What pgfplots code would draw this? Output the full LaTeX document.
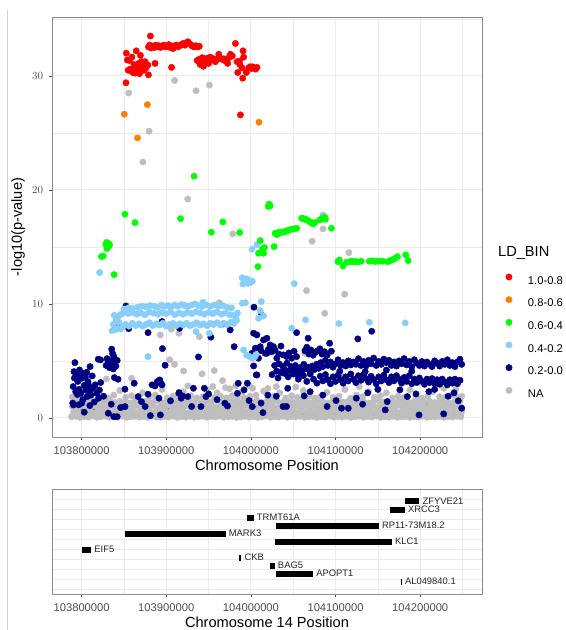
\documentclass[border=0pt]{standalone}
\usepackage{fontspec}
\setmainfont{Liberation Sans}
\usepackage{pgfplots}
\pgfplotsset{compat=1.18}

\definecolor{ldred}{HTML}{FF0000}
\definecolor{ldorange}{HTML}{FF8000}
\definecolor{ldgreen}{HTML}{00FF00}
\definecolor{ldlight}{HTML}{87CEFA}
\definecolor{ldnavy}{HTML}{000080}
\definecolor{ldgrey}{HTML}{BEBEBE}
\definecolor{gridgrey}{HTML}{EBEBEB}
\definecolor{ticktext}{HTML}{4D4D4D}

\pgfplotsset{
  ggpanel/.style={
    scale only axis, width=430bp, anchor=south west,
    xmin=103765, xmax=104273,
    xtick={103800,103900,104000,104100,104200},
    xticklabels={103800000,103900000,104000000,104100000,104200000},
    minor xtick={103850,103950,104050,104150,104250},
    scaled x ticks=false, scaled y ticks=false,
    xtick pos=bottom, ytick pos=left,
    grid=both,
    major grid style={draw=gridgrey, line width=0.9bp},
    minor grid style={draw=gridgrey, line width=0.5bp},
    axis line style={draw=black!45, line width=0.6bp},
    tick align=outside, major tick length=3bp, minor tick length=0bp,
    tick style={draw=black!70, line width=0.6bp},
    every tick label/.append style={font=\fontsize{11.2bp}{13bp}\selectfont, text=ticktext},
    xticklabel style={inner sep=0bp, anchor=north, yshift=-6.5bp},
    yticklabel style={inner sep=0bp, anchor=east, xshift=-5.7bp},
    every axis x label/.style={at={(axis description cs:0.5,0)}, anchor=base,
      yshift=-33.5bp, font=\fontsize{14.6bp}{17bp}\selectfont},
    every axis y label/.style={at={(axis description cs:-0.0698,0.5)}, anchor=base,
      rotate=90, font=\fontsize{14.6bp}{17bp}\selectfont},
  },
  dots/.style={only marks, mark=*, mark size=3.2bp, color=#1, mark options={draw=none}, forget plot},
  ldleg/.style={only marks, mark=*, mark size=3.2bp, color=#1, mark options={draw=none},
    legend image code/.code={\path[draw=none, fill=none] (-7bp,-4bp) rectangle (7bp,11bp);
      \draw[##1] plot coordinates {(0bp,4bp)};}},
  gene/.style={line width=5.8bp, black, line cap=butt, forget plot},
}
\tikzset{genelab/.style={anchor=west, inner sep=0bp, xshift=3bp, text=black!85,
  font=\fontsize{9.4bp}{11bp}\selectfont}}

\begin{document}
\begin{tikzpicture}
\path[use as bounding box] (0bp,0bp) rectangle (566bp,630bp);
\draw[black!18, line width=0.8bp] (7bp,0bp) -- (7bp,620bp);

% ---------------- association panel ----------------
\begin{axis}[ggpanel, at={(52bp,193bp)}, height=420bp,
  ymin=-1.675, ymax=35.17,
  ytick={0,10,20,30}, minor ytick={5,15,25,35},
  xlabel={Chromosome Position}, ylabel={-log10(p-value)},
  legend style={at={(axis description cs:1.0465,0.3976)}, anchor=north west,
    draw=none, fill=none, inner sep=0bp, outer sep=0bp, row sep=7bp,
    font=\fontsize{11.2bp}{13bp}\selectfont, nodes={inner sep=0bp},
    /tikz/every odd column/.append style={column sep=12bp}},
  legend cell align=left]

% 0.2-0.0 partly hidden under the NA cloud
\addplot[dots=ldnavy] coordinates {
(103798,0.7)(103812,0.6)(103826,0.3)(103845,1.2)(103860,0.5)(103884,0.25)(103905,0.7)
(103915,1.1)(103932,0.35)(103955,0.4)(103978,0.6)(104000,0.6)(104026,0.3)(104045,1.2)
(104060,0.3)(104081,0.6)(104101,0.35)(104120,0.5)(104136,0.9)(104146,0.25)(104170,0.4)
(104193,0.55)(104205,1.1)(104220,0.6)(104236,0.3)(104247,0.2)};

% NA
\addplot[dots=ldgrey] coordinates {
(103788,0.1)(103793,0.15)(103798,0.05)(103803,0.12)(103808,0.08)(103813,0.18)(103818,0.05)
(103823,0.1)(103828,0.15)(103833,0.06)(103838,0.12)(103843,0.08)(103848,0.16)(103853,0.05)
(103858,0.1)(103863,0.14)(103868,0.07)(103873,0.12)(103878,0.05)(103883,0.15)(103888,0.09)
(103893,0.06)(103898,0.13)(103903,0.08)(103908,0.16)(103913,0.05)(103918,0.11)(103923,0.07)
(103928,0.14)(103933,0.06)(103938,0.1)(103943,0.15)(103948,0.05)(103953,0.12)(103958,0.08)
(103963,0.17)(103968,0.06)(103973,0.1)(103978,0.13)(103983,0.05)(103988,0.09)(103993,0.15)
(103998,0.07)(104003,0.12)(104008,0.05)(104013,0.1)(104018,0.16)(104023,0.06)(104028,0.11)
(104033,0.08)(104038,0.14)(104043,0.05)(104048,0.12)(104053,0.09)(104058,0.15)(104063,0.06)
(104068,0.1)(104073,0.13)(104078,0.05)(104083,0.11)(104088,0.08)(104093,0.16)(104098,0.06)
(104103,0.12)(104108,0.07)(104113,0.14)(104118,0.05)(104123,0.1)(104128,0.15)(104133,0.06)
(104138,0.12)(104143,0.08)(104148,0.16)(104153,0.05)(104158,0.11)(104163,0.07)(104168,0.14)
(104173,0.06)(104178,0.1)(104183,0.13)(104188,0.05)(104193,0.12)(104198,0.08)(104203,0.15)
(104208,0.06)(104213,0.11)(104218,0.09)(104223,0.14)(104228,0.05)(104233,0.12)(104238,0.08)
(104243,0.15)(104248,0.1)
(103790.5,0.5)(103795.5,0.6)(103800.5,0.45)(103805.5,0.55)(103810.5,0.62)(103815.5,0.42)
(103820.5,0.58)(103825.5,0.5)(103830.5,0.65)(103835.5,0.44)(103840.5,0.56)(103845.5,0.6)
(103850.5,0.47)(103855.5,0.53)(103860.5,0.63)(103865.5,0.45)(103870.5,0.57)(103875.5,0.5)
(103880.5,0.62)(103885.5,0.43)(103890.5,0.55)(103895.5,0.6)(103900.5,0.48)(103905.5,0.58)
(103910.5,0.46)(103915.5,0.63)(103920.5,0.52)(103925.5,0.44)(103930.5,0.6)(103935.5,0.5)
(103940.5,0.56)(103945.5,0.45)(103950.5,0.62)(103955.5,0.52)(103960.5,0.47)(103965.5,0.58)
(103970.5,0.5)(103975.5,0.64)(103980.5,0.45)(103985.5,0.55)(103990.5,0.6)(103995.5,0.48)
(104000.5,0.57)(104005.5,0.44)(104010.5,0.6)(104015.5,0.52)(104020.5,0.47)(104025.5,0.62)
(104030.5,0.5)(104035.5,0.55)(104040.5,0.45)(104045.5,0.6)(104050.5,0.52)(104055.5,0.48)
(104060.5,0.63)(104065.5,0.5)(104070.5,0.56)(104075.5,0.44)(104080.5,0.6)(104085.5,0.5)
(104090.5,0.58)(104095.5,0.46)(104100.5,0.62)(104105.5,0.52)(104110.5,0.47)(104115.5,0.57)
(104120.5,0.5)(104125.5,0.63)(104130.5,0.45)(104135.5,0.55)(104140.5,0.6)(104145.5,0.48)
(104150.5,0.58)(104155.5,0.46)(104160.5,0.62)(104165.5,0.5)(104170.5,0.55)(104175.5,0.45)
(104180.5,0.6)(104185.5,0.52)(104190.5,0.48)(104195.5,0.62)(104200.5,0.5)(104205.5,0.56)
(104210.5,0.45)(104215.5,0.6)(104220.5,0.52)(104225.5,0.47)(104230.5,0.58)(104235.5,0.5)
(104240.5,0.62)(104245.5,0.45)(104249,0.55)
(103789,1.0)(103794,0.9)(103799,1.05)(103804,0.95)(103809,0.88)(103814,1.1)(103819,0.95)
(103824,1.02)(103829,0.9)(103834,1.08)(103839,0.94)(103844,1.0)(103849,0.87)(103854,1.05)
(103859,0.95)(103864,1.1)(103869,0.9)(103874,1.0)(103879,0.93)(103884,1.08)(103889,0.88)
(103894,1.0)(103899,0.95)(103904,1.1)(103909,0.9)(103914,1.02)(103919,0.94)(103924,1.07)
(103929,0.9)(103934,1.0)(103939,0.95)(103944,1.1)(103949,0.88)(103954,1.03)(103959,0.93)
(103964,1.08)(103969,0.9)(103974,1.0)(103979,0.95)(103984,1.05)(103989,0.9)(103994,1.1)
(103999,0.94)(104004,1.0)(104009,0.9)(104014,1.06)(104019,0.95)(104024,1.02)(104029,0.88)
(104034,1.08)(104039,0.93)(104044,1.0)(104049,0.9)(104054,1.05)(104059,0.95)(104064,1.1)
(104069,0.9)(104074,1.0)(104079,0.95)(104084,1.08)(104089,0.88)(104094,1.02)(104099,0.94)
(104104,1.07)(104109,0.9)(104114,1.0)(104119,0.95)(104124,1.1)(104129,0.9)(104134,1.03)
(104139,0.93)(104144,1.08)(104149,0.9)(104154,1.0)(104159,0.95)(104164,1.05)(104169,0.9)
(104174,1.1)(104179,0.94)(104184,1.0)(104189,0.9)(104194,1.06)(104199,0.95)(104204,1.02)
(104209,0.88)(104214,1.08)(104219,0.93)(104224,1.0)(104229,0.9)(104234,1.05)(104239,0.95)
(104244,1.1)(104248.5,0.92)
(103791,1.4)(103797,1.5)(103803,1.35)(103809,1.45)(103815,1.3)(103821,1.5)(103827,1.4)
(103833,1.55)(103839,1.35)(103845,1.45)(103851,1.4)(103857,1.3)(103863,1.5)(103869,1.38)
(103875,1.45)(103881,1.32)(103887,1.5)(103893,1.4)(103899,1.35)(103905,1.52)(103911,1.4)
(103917,1.3)(103923,1.45)(103929,1.38)(103935,1.5)(103941,1.35)(103947,1.45)(103953,1.4)
(103959,1.55)(103965,1.35)(103971,1.45)(103977,1.4)(103983,1.5)(103989,1.32)(103995,1.45)
(104001,1.4)(104007,1.55)(104013,1.35)(104019,1.45)(104025,1.38)(104031,1.5)(104037,1.35)
(104043,1.45)(104049,1.4)(104055,1.3)(104061,1.5)(104067,1.4)(104073,1.35)(104079,1.5)
(104085,1.4)(104091,1.32)(104097,1.45)(104103,1.5)(104109,1.38)(104115,1.45)(104121,1.35)
(104127,1.5)(104133,1.4)(104139,1.3)(104145,1.45)(104151,1.52)(104157,1.38)(104163,1.45)
(104169,1.35)(104175,1.5)(104181,1.4)(104187,1.32)(104193,1.45)(104199,1.5)(104205,1.38)
(104211,1.45)(104217,1.35)(104223,1.5)(104229,1.4)(104235,1.3)(104241,1.45)(104247,1.5)
(103789,1.85)(103796,1.75)(103803,1.95)(103810,1.8)(103824,1.9)(103831,1.75)(103838,2.0)
(103852,1.8)(103859,1.95)(103866,1.7)(103880,1.85)(103887,2.0)(103901,1.75)(103908,1.9)
(103915,1.8)(103929,1.95)(103936,1.75)(103943,1.85)(103950,2.0)(103957,1.8)(103964,1.9)
(103971,1.75)(103978,1.95)(103985,1.85)(103992,1.75)(103999,1.9)(104006,2.0)(104020,1.8)
(104027,1.9)(104041,1.75)(104048,1.95)(104055,1.8)(104069,1.9)(104076,1.75)(104083,1.95)
(104097,1.8)(104104,1.9)(104118,1.75)(104125,2.0)(104132,1.85)(104146,1.8)(104153,1.95)
(104167,1.75)(104174,1.9)(104181,1.8)(104195,1.95)(104202,1.75)(104209,1.9)(104223,1.85)
(104230,1.8)(104237,2.0)(104244,1.8)(104249,1.9)
(103795,2.3)(103812,2.2)(103845,2.4)(103872,2.2)(103895,2.5)(103920,2.3)(103948,2.45)
(103960,2.2)(103975,2.55)(103990,2.3)(104002,2.6)(104015,2.35)(104034,2.2)(104062,2.4)
(104090,2.25)(104111,2.5)(104139,2.3)(104160,2.2)(104188,2.45)(104215,2.3)(104242,2.5)
(104228,2.6)(104053,2.7)(104128,2.75)(103982,2.8)(103955,2.75)(103970,2.65)(103998,2.85)
(104020,2.6)(104030,2.75)
(103855.6,28.5)(103909.8,29.6)(103935.2,28.7)(103950.9,29.2)(103879.7,25.15)(103872.3,22.45)
(103925.4,19.2)(103978.5,16.14)(104085.2,16.58)(104072.3,15.5)(104115.7,14.5)(104110.7,10.85)
(104065.7,11.17)(104087.2,9.18)(103962.6,10.1)(103905.9,7.78)(103914.9,7.43)(103893,7.28)
(103939.1,7.13)(103843.4,8.95)(103829.7,5.09)(103859,3.48)(103904,5.1)(103909.8,4.7)
(103925.4,2.8)(103942.2,3.86)(103956.7,4.15)(103966.5,3.27)(103829.3,3.42)(103920.4,4.12)
(104081.4,6.1)(104063.8,5.67)(104116.5,3.63)(104106.8,3.68)(104121.6,3.39)};

% 0.2-0.0
\addplot[dots=ldnavy] coordinates {
(103789.5,1.3)(103790,2.75)(103791,4.06)(103792.1,4.85)(103793,2.3)(103794,3.77)(103795.5,3.2)
(103796.5,1.15)(103797,2.5)(103798.5,3.95)(103799,2.16)(103800.5,3.48)(103801.5,1.6)(103803,2.85)
(103803.1,0.5)(103804.5,3.62)(103805,2.46)(103806.5,1.87)(103807.5,3.18)(103809,2.35)(103809.7,1.08)
(103810,4.5)(103811,2.0)(103812.5,3.68)(103813.5,2.6)(103815,1.4)(103816,2.9)(103818,2.16)
(103819.6,5.15)(103820,1.73)(103821,2.45)(103822.3,5.09)(103822.5,3.1)(103826,1.9)(103790.3,1.14)
(103800,1.29)(103793.5,3.45)(103797.5,4.2)(103802,3.9)(103806,4.0)(103808,2.9)(103795,2.05)
(103791.5,3.5)
(103829,4.6)(103830.1,5.2)(103831.5,4.9)(103833,4.4)(103834.5,5.0)(103835.5,6.03)(103836,4.7)
(103836.5,5.65)(103837.5,4.3)(103838,5.4)(103838.7,3.54)(103839,4.85)(103840.5,4.55)(103842,5.05)
(103843,3.39)(103831.5,0.41)(103838,0.11)(103842,0.11)(103835,1.2)(103846,0.9)
(103852.4,9.82)(103841,8.5)(103843,8.2)(103840,7.95)(103855.6,7.83)(103878.5,7.48)(103895,8.45)
(103915.7,7.86)(103952.7,7.08)(103967.6,8.25)(103975.5,7.72)(103980.2,6.25)(104003.6,9.71)
(104012.5,9.04)(103895.5,6.08)(103938,5.35)(103898.6,4.62)(103893,3.1)(103895,2.9)(103886.6,2.8)
(103851.2,2.52)(103851.2,0.99)(103862.1,3.04)(103866.8,1.87)(103870.7,1.43)(103878.5,2.08)
(103883.2,2.9)(103892.3,3.33)(103891.4,1.73)(103881.2,0.2)(103893,0.26)(103914.9,2.16)
(103917.6,1.73)(103925.4,1.87)(103932.1,2.6)(103945,2.6)(103946.9,1.87)(103941,0.99)
(103969.2,1.29)(103972.3,1.05)(103984,2.16)(103991.9,2.46)(103995.8,3.04)(103997.8,1.52)
(104001.6,0.99)(104006.3,3.77)(104014.2,0.46)(103889.3,3.18)(103894,2.98)(103915,2.22)
(103919,1.93)(103985,3.04)(103960,1.6)(103930,1.0)(103905,1.5)(103875,1.0)(103950,2.1)
(104003.2,7.43)(104007.1,7.28)(104014.9,6.84)(104018.9,6.99)(104022.7,6.4)(104026.6,6.25)
(104011,6.25)(104005.2,6.11)(104001.3,5.67)(104009,5.24)(104016.9,5.67)(104030.6,5.24)
(104038.3,5.53)(104042.3,5.38)(104048.2,5.24)(104054,5.38)(104003.2,4.56)(104018.9,5.67)
(104012,5.9)(104020.5,6.0)(104024.5,5.8)(104028.5,5.95)(104033,5.6)(104035.5,6.3)(104045,5.7)
(104051,5.85)(104007.1,3.77)
(104063.8,5.9)(104066,6.2)(104068.5,5.6)(104071,5.95)(104073.5,5.5)(104076,5.75)(104079,5.9)
(104081.5,6.05)(104084,5.6)(104087,5.8)(104090,5.5)(104093,6.55)(104095,5.85)
(104054,7.48)(104142.7,7.6)(104126.3,6.93)(104067.6,6.99)
(104028,4.6)(104030.5,4.1)(104033,4.75)(104035,4.0)(104037.5,4.55)(104040,4.2)(104042.5,4.8)
(104045,4.15)(104047.5,4.5)(104050,4.05)(104052.5,4.6)(104055,4.25)(104057.5,4.4)(104060,4.1)
(104062.5,4.7)(104065,4.3)(104067.5,4.45)(104070,4.0)(104072.5,4.55)(104075,4.25)(104077.5,4.7)
(104080,4.35)(104082.5,4.85)(104085,4.5)(104088,5.05)(104091,4.6)(104094,4.9)(104097,4.45)
(104100,4.75)(104103,5.1)(104106,4.6)(104109,4.85)(104112,4.55)(104115,5.0)(104118,4.65)
(104121,4.9)(104124,4.7)(104127,5.2)(104130,4.6)(104133,4.95)(104136,4.55)(104139,5.05)
(104142,4.75)(104145,5.25)(104148,4.6)(104151,4.95)(104154,4.7)(104157,5.15)(104160,4.85)
(104163,5.05)(104166,4.6)(104169,4.9)(104172,4.55)(104175,5.0)(104178,4.75)(104181,5.2)
(104184,4.65)(104187,4.95)(104190,4.5)(104193,5.1)(104196,4.8)(104199,4.6)(104202,4.95)
(104205,4.55)(104208,4.9)(104211,4.7)(104214,4.5)(104217,5.0)(104220,4.8)(104223,4.55)
(104226,4.95)(104229,4.7)(104232,5.1)(104235,4.6)(104238,4.85)(104241,4.5)(104244,4.9)
(104247,5.15)(104249,4.7)
(104062,3.7)(104066,3.2)(104070,3.85)(104074,3.4)(104078,3.05)(104082,3.65)(104085,3.25)
(104088,3.8)(104091,3.35)(104094,3.0)(104097,3.6)(104100,3.2)(104103,3.75)(104106,3.35)
(104109,3.05)(104112,3.6)(104115,3.25)(104118,3.85)(104121,3.4)(104124,3.1)(104127,3.7)
(104130,3.3)(104133,3.8)(104136,3.45)(104139,3.15)(104142,3.65)(104145,3.35)(104148,3.0)
(104151,3.6)(104154,3.25)(104157,3.75)(104160,3.35)(104163,3.1)(104166,3.6)(104169,3.25)
(104172,3.7)(104175,3.4)(104178,3.05)(104181,3.55)(104184,3.2)(104187,3.7)(104190,3.0)
(104193,3.4)(104196,3.1)(104199,3.5)(104202,3.2)(104205,2.95)(104208,3.4)(104211,3.1)
(104214,3.45)(104217,3.0)(104220,3.35)(104223,2.95)(104226,3.4)(104229,3.15)(104232,2.9)
(104235,3.35)(104238,3.05)(104241,3.4)(104244,3.0)(104247,3.3)
(104025,3.8)(104032,3.5)(104038,3.95)(104044,3.6)(104050,3.85)(104056,3.4)
(104040,3.9)(104055,3.8)(104105,4.1)(104135,4.05)(104160,4.2)(104190,4.1)
(104038,1.0)(104042,1.0)(104043.5,2.6)(104062.9,1.93)(104085,2.0)(104100.6,1.52)(104107,0.85)
(104115,0.85)(104124.5,1.73)(104161,1.43)(104158.7,0.7)(104176,2.46)(104184.8,1.87)(104210.2,2.31)
(104198.6,0.26)(104227.7,0.35)(104249,0.85)(104030,1.9)(104070,2.3)(104138,2.2)(104150,2.5)
(104195,2.1)(104240,2.2)(104245,1.5)(104020,2.0)(104012,1.3)(104233,1.9)(104217,2.5)
(104090,1.0)(104132,1.2)};

% 0.4-0.2
\addplot[dots=ldlight] coordinates {
(103821.3,12.75)(104007.1,15.2)(104001.3,14.8)(104085.2,17.8)
(103989.6,12.3)(103990.5,11.75)(103992,12.1)(103993.5,11.9)(103995,12.2)(103996.5,11.8)
(103998,12.05)(104000,11.9)(104001.5,12.0)(103989.9,10.06)(103993.4,10.1)(104012.2,10.2)
(104011,9.41)(104014.9,8.95)(104009,8.74)(104051.2,11.78)(104064.6,8.6)(104048.2,7.87)
(104104,8.27)(104140,8.39)(104182.2,8.33)(103878.5,5.38)(103935.2,7.57)(103950.9,7.43)
(103991.4,5.96)(103995,5.5)(103998,5.4)(104001.5,5.25)(104004.5,5.35)(104006,5.55)
(103836,7.65)(103837.5,8.2)(103838.5,9.0)(103840,7.75)(103841,8.6)(103843,7.85)(103844,8.4)
(103846,7.8)(103847,9.1)(103849,8.05)
(103852,8.2)(103856,8.05)(103860,8.3)(103864,8.1)(103868,8.25)(103872,8.05)(103876,8.2)
(103880,8.35)(103884,8.1)(103888,8.25)(103892,8.15)(103896,8.3)(103900,8.05)(103904,8.2)
(103908,8.3)(103912,8.1)(103916,8.25)(103920,8.15)(103924,8.3)(103928,8.1)(103932,8.2)
(103936,8.35)(103940,8.15)(103944,8.25)(103948,8.1)(103952,8.3)(103956,8.2)(103960,8.35)
(103964,8.15)(103968,8.3)(103972,8.2)(103976,8.4)(103980,8.3)(103983,8.55)
(103850,9.3)(103855,9.15)(103860,9.25)(103865,9.1)(103870,9.2)(103875,9.05)(103880,9.3)
(103885,9.2)(103890,9.1)(103895,9.25)(103900,9.15)(103905,9.3)(103910,9.05)(103915,9.2)
(103920,9.1)(103925,9.25)(103930,9.15)(103935,9.3)(103940,9.2)(103945,9.1)(103950,9.25)
(103955,9.15)(103960,9.3)(103965,9.1)(103970,9.2)(103975,9.05)(103980,9.0)(103984,9.2)
(103850,9.55)(103855,9.65)(103860,9.6)(103866,9.7)(103871,9.8)(103876,9.75)(103881,9.85)
(103886,9.8)(103890,9.7)(103894,9.9)(103898,9.8)(103902,9.85)(103906,9.75)(103910,9.9)
(103914,9.8)(103918,9.95)(103922,9.85)(103926,9.8)(103930,9.9)(103934,10.0)(103938,9.85)
(103942,9.75)(103947,9.9)(103952,9.8)(103957,9.9)(103962,9.8)(103967,9.85)(103972,9.7)
(103977,9.65)(103982,8.8)(103943.4,10.15)};

% 0.6-0.4
\addplot[dots=ldgreen] coordinates {
(103851.2,17.87)(103863.0,17.13)(103916.9,17.48)(103932.8,21.2)(103953.2,16.29)(103966.8,17.19)
(103986.7,16.26)(104020.5,18.55)(104021.6,18.75)(104022.7,18.6)
(103828.5,15.2)(103829.5,15.4)(103831,15.0)(103832,15.3)(103830,14.85)(103833,15.15)
(103823.4,14.15)(103825.5,14.2)(103838.3,12.57)
(104008.3,13.27)(104009,14.45)(104011,15.55)(104013.5,14.8)(104014.9,14.45)(104016,14.95)
(104027.4,15.03)(104028.6,16.2)(104030.2,16.1)(104031.8,16.14)(104033,16.3)(104034.5,16.25)
(104036.5,16.3)(104038.3,16.29)(104040.5,16.35)(104042.3,16.4)(104045,16.49)(104048.2,16.55)
(104051.2,16.58)(104054,16.64)(104059.9,17.52)(104061.8,17.5)(104063.8,17.43)(104065.5,17.4)
(104067.6,17.31)(104069.5,17.2)(104071.6,17.13)(104073.5,17.02)(104075.5,17.13)(104081.4,17.37)
(104083.4,17.43)(104085,17.55)(104087.2,17.6)(104088,17.43)(104095.1,16.64)
(104102.8,13.7)(104104.5,13.85)(104108.7,13.33)(104113,13.65)(104116.5,13.7)(104118.9,13.75)
(104121.2,13.7)(104123.6,13.72)(104125.9,13.68)(104130.2,13.75)(104140,13.75)(104143.5,13.78)
(104147,13.72)(104150.5,13.75)(104155.6,13.75)(104161.4,13.7)(104164.6,13.8)(104168.1,13.9)
(104170.4,14.0)(104173.1,14.15)(104182.9,14.3)(104185.7,13.8)};

% 0.8-0.6
\addplot[dots=ldorange] coordinates {
(103850.4,26.64)(103877.7,27.48)(103866.0,24.56)(104009.5,25.94)};

% 1.0-0.8
\addplot[dots=ldred] coordinates {
(103879,32.55)(103880.5,32.7)(103882,32.45)(103884,32.6)(103886,32.5)(103887.5,32.7)(103889,32.55)
(103891,32.65)(103893,32.5)(103895,32.6)(103897,32.7)(103899,32.55)(103901,32.6)(103903,32.75)
(103904.5,32.5)(103906,32.6)(103908,32.4)(103910,32.65)(103912,32.7)(103914,32.55)(103916,32.65)
(103918,32.75)(103920,32.85)(103922,32.7)(103924,32.9)(103925.5,33.0)(103927,32.85)(103929,32.75)
(103931,32.6)(103933,32.55)(103935,32.65)(103937,32.55)(103939,32.6)(103881.2,33.5)
(103936.5,31.35)(103938.5,31.45)(103940.5,31.4)(103942.5,31.6)(103944.5,31.5)(103946.5,31.3)
(103948.5,31.55)(103950,31.1)(103952,31.65)(103954,31.4)(103956,31.5)(103958,31.25)(103960,31.45)
(103962,31.9)(103964,31.55)(103966,31.45)(103968,31.5)(103970,31.3)(103972.5,31.1)(103974,31.6)
(103944,30.85)(103940,31.0)
(103975.8,31.9)(103978,31.75)(103981.7,32.85)(103983.7,31.25)(103984.4,30.3)(103987,31.0)
(103989.6,30.7)(103990.3,29.8)(103990.7,32.2)(103991.4,31.65)(103994.6,30.3)(103997.3,30.7)
(103999,30.8)(104000.5,30.65)(104002,30.8)(104004,30.7)(104005.5,30.6)(104007.1,30.75)
(103986.5,31.3)(103987.6,26.58)
(103852.4,29.4)(103852.8,32.0)(103854,31.4)(103855,30.5)(103856.6,31.35)(103857.5,30.6)
(103858.6,30.45)(103859.4,31.65)(103860.5,30.3)(103861.5,30.55)(103862,31.0)(103863.3,30.25)
(103864.5,32.2)(103865,30.8)(103866,30.45)(103867.5,31.1)(103868.3,30.2)(103869.5,31.8)
(103870,30.6)(103871,31.25)(103872.3,30.95)(103873.5,30.5)(103875,31.25)(103876,30.7)
(103878.2,30.95)(103878.9,30.1)(103886.7,31.1)(103906.3,30.75)};

\addlegendimage{ldleg=ldred}
\addlegendimage{ldleg=ldorange}
\addlegendimage{ldleg=ldgreen}
\addlegendimage{ldleg=ldlight}
\addlegendimage{ldleg=ldnavy}
\addlegendimage{ldleg=ldgrey}
\legend{1.0-0.8,0.8-0.6,0.6-0.4,0.4-0.2,0.2-0.0,NA}
\end{axis}

\node[anchor=base west, inner sep=0bp, font=\fontsize{14.6bp}{17bp}\selectfont]
  at (498bp,373.3bp) {LD\_BIN};

% ---------------- gene panel ----------------
\begin{axis}[ggpanel, at={(52bp,36bp)}, height=105bp,
  ymin=0, ymax=105, ytick={5,15,...,95}, yticklabels={}, ytick style={draw=none},
  xlabel={Chromosome 14 Position}]
\addplot[gene] coordinates {(104182.1,93)(104199.0,93)};
\addplot[gene] coordinates {(104163.9,84.3)(104181.8,84.3)};
\addplot[gene] coordinates {(103995.5,76.3)(104003.4,76.3)};
\addplot[gene] coordinates {(104029.4,68.3)(104151.3,68.3)};
\addplot[gene] coordinates {(103851.7,60.3)(103970.2,60.3)};
\addplot[gene] coordinates {(104029.0,52.3)(104166.6,52.3)};
\addplot[gene] coordinates {(103800.3,44.3)(103811.4,44.3)};
\addplot[gene] coordinates {(103986.0,36.3)(103988.8,36.3)};
\addplot[gene] coordinates {(104022.9,28.3)(104028.2,28.3)};
\addplot[gene] coordinates {(104029.4,20.3)(104073.5,20.3)};
\addplot[gene] coordinates {(104176.9,12.3)(104178.3,12.3)};
\node[genelab] at (axis cs:104199.0,93) {ZFYVE21};
\node[genelab] at (axis cs:104181.8,84.3) {XRCC3};
\node[genelab] at (axis cs:104003.4,76.3) {TRMT61A};
\node[genelab] at (axis cs:104151.3,68.3) {RP11-73M18.2};
\node[genelab] at (axis cs:103970.2,60.3) {MARK3};
\node[genelab] at (axis cs:104166.6,52.3) {KLC1};
\node[genelab] at (axis cs:103811.4,44.3) {EIF5};
\node[genelab] at (axis cs:103988.8,36.3) {CKB};
\node[genelab] at (axis cs:104028.2,28.3) {BAG5};
\node[genelab] at (axis cs:104073.5,20.3) {APOPT1};
\node[genelab] at (axis cs:104178.3,12.3) {AL049840.1};
\end{axis}
\end{tikzpicture}
\end{document}
